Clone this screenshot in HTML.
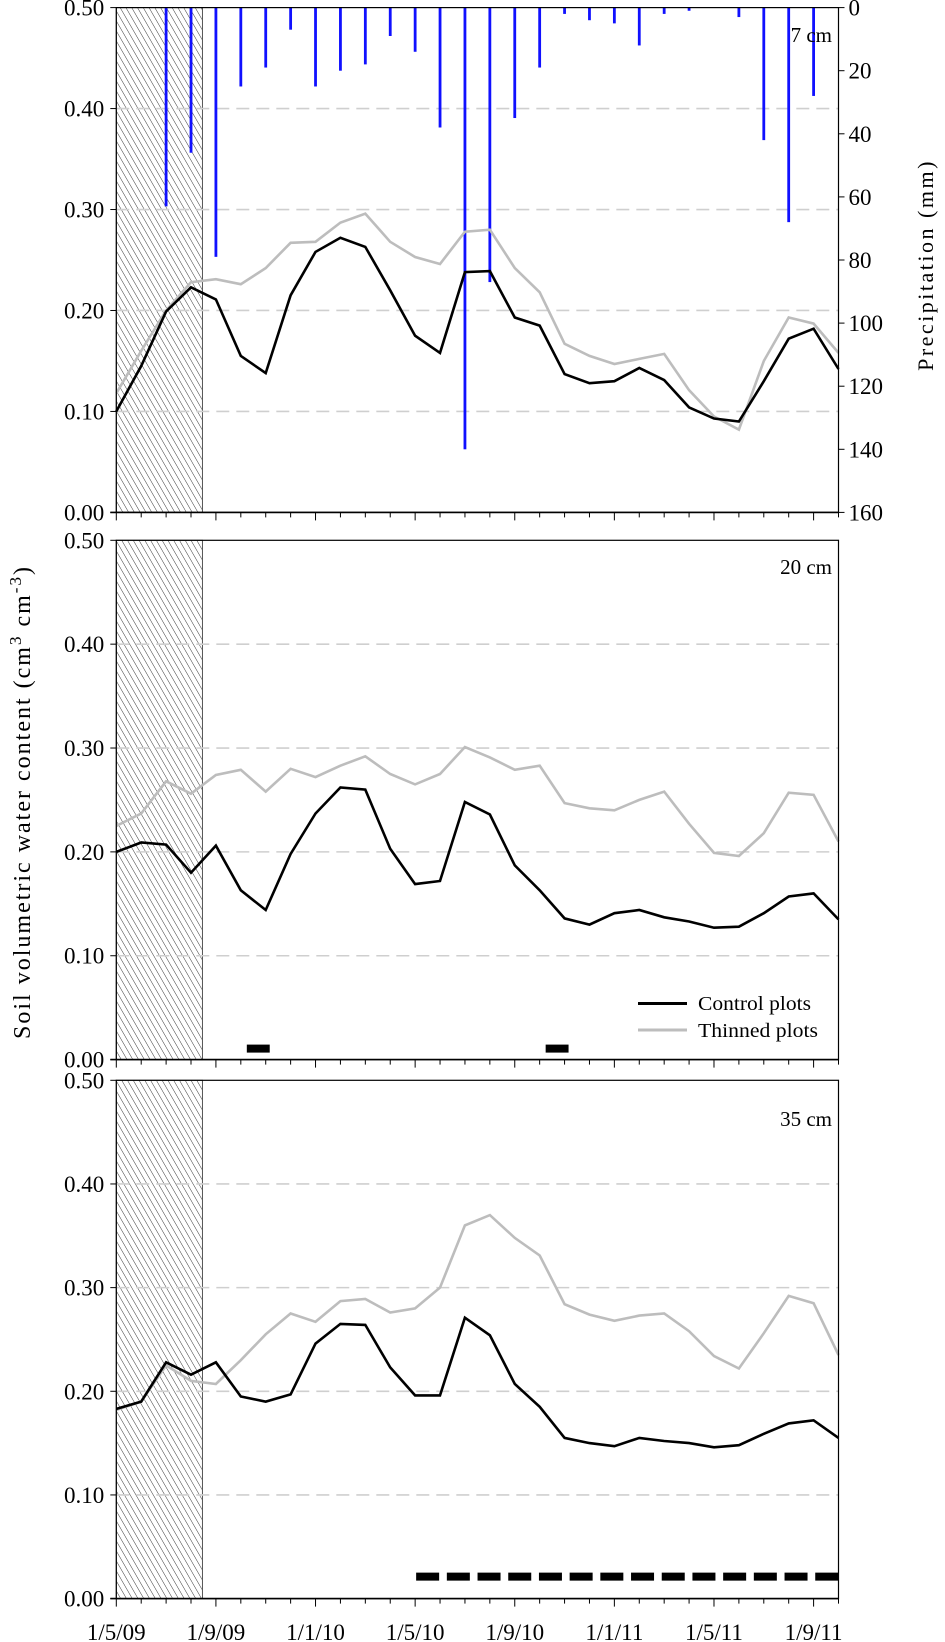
<!DOCTYPE html>
<html><head><meta charset="utf-8"><style>
html,body{margin:0;padding:0;background:#fff;}
svg{display:block;font-family:"Liberation Serif",serif;}
</style></head><body>
<svg id="chart" width="945" height="1642" viewBox="0 0 945 1642" xmlns="http://www.w3.org/2000/svg">
<defs>
<pattern id="hatch" patternUnits="userSpaceOnUse" width="5" height="5" patternTransform="rotate(-30)">
<line x1="0" y1="0" x2="0" y2="5" stroke="#222" stroke-width="0.9"/>
</pattern>
</defs>
<g id="root"></g>
<text transform="translate(30,802) rotate(-90)" text-anchor="middle" font-size="24" letter-spacing="2">Soil volumetric water content (cm<tspan dy="-9" font-size="17">3</tspan><tspan dy="9"> cm</tspan><tspan dy="-9" font-size="17">-3</tspan><tspan dy="9">)</tspan></text>
<text transform="translate(933,265) rotate(-90)" text-anchor="middle" font-size="22" letter-spacing="2.5">Precipitation (mm)</text>
</svg>
<script>
const months = [0,1,2,3,4,5,6,7,8,9,10,11,12,13,14,15,16,17,18,19,20,21,22,23,24,25,26,27,28,29];
const control7 = [0.100,0.145,0.199,0.223,0.211,0.155,0.138,0.215,0.258,0.272,0.263,0.220,0.175,0.158,0.238,0.239,0.193,0.185,0.137,0.128,0.130,0.143,0.131,0.104,0.093,0.090,0.130,0.172,0.182,0.142];
const thinned7 = [0.118,0.160,0.200,0.228,0.231,0.226,0.242,0.267,0.268,0.287,0.296,0.268,0.253,0.246,0.278,0.280,0.242,0.218,0.167,0.155,0.147,0.152,0.157,0.121,0.095,0.082,0.150,0.193,0.187,0.158];
const control20 = [0.200,0.209,0.207,0.180,0.206,0.163,0.144,0.198,0.237,0.262,0.260,0.203,0.169,0.172,0.248,0.236,0.187,0.163,0.136,0.130,0.141,0.144,0.137,0.133,0.127,0.128,0.141,0.157,0.160,0.135];
const thinned20 = [0.225,0.237,0.268,0.256,0.274,0.279,0.258,0.280,0.272,0.283,0.292,0.275,0.265,0.275,0.301,0.291,0.279,0.283,0.247,0.242,0.240,0.250,0.258,0.227,0.199,0.196,0.218,0.257,0.255,0.210];
const control35 = [0.183,0.190,0.228,0.216,0.228,0.195,0.190,0.197,0.246,0.265,0.264,0.223,0.196,0.196,0.271,0.254,0.207,0.185,0.155,0.150,0.147,0.155,0.152,0.150,0.146,0.148,0.159,0.169,0.172,0.155];
const thinned35 = [0.182,0.190,0.225,0.210,0.207,0.230,0.255,0.275,0.267,0.287,0.289,0.276,0.280,0.300,0.360,0.370,0.348,0.331,0.284,0.274,0.268,0.273,0.275,0.258,0.234,0.222,0.256,0.292,0.285,0.235];
const precipMonths = [2,3,4,5,6,7,8,9,10,11,12,13,14,15,16,17,18,19,20,21,22,23,24,25,26,27,28];
const precipValues = [63,46,79,25,19,7,25,20,18,9,14,38,140,87,35,19,2,4,5,12,2,1,0,3,42,68,28];
const yTicks = [0,0.1,0.2,0.3,0.4,0.5];
const yTickLabels = ["0.00","0.10","0.20","0.30","0.40","0.50"];
const pTicks = [0,20,40,60,80,100,120,140,160];
const xLabelMonths = [0,4,8,12,16,20,24,28];
const xLabels = ["1/5/09","1/9/09","1/1/10","1/5/10","1/9/10","1/1/11","1/5/11","1/9/11"];
const depthLabels = ["7 cm","20 cm","35 cm"];
const sigBars20 = [[5,6],[17,18]];
const sigBars35 = [[12,29]];
const pretreatEnd = 3.46;

const NS="http://www.w3.org/2000/svg";
const root=document.getElementById('root');
const X0=116.3, X1=838.5, MMAX=29;
const xS=m=>X0+m*(X1-X0)/MMAX;
function mk(tag,attrs,parent){const e=document.createElementNS(NS,tag);for(const k in attrs)e.setAttribute(k,attrs[k]);(parent||root).appendChild(e);return e;}

const panels=[
 {top:7.6,bottom:512.4,c:control7,t:thinned7,lab:depthLabels[0],ly:42,bars:null},
 {top:540.3,bottom:1059.6,c:control20,t:thinned20,lab:depthLabels[1],ly:574,bars:sigBars20},
 {top:1080.3,bottom:1598.6,c:control35,t:thinned35,lab:depthLabels[2],ly:1126,bars:sigBars35}
];
panels.forEach((p,i)=>{
 const g=mk('g',{});
 
 
 const yS=v=>p.bottom-v/0.5*(p.bottom-p.top);
 const h=mk('rect',{x:X0,y:p.top,width:xS(pretreatEnd)-X0,height:p.bottom-p.top,fill:'url(#hatch)',stroke:'#555','stroke-width':1},g);
 
 
 yTicks.forEach(v=>{ if(v>0&&v<0.5){
   const gl=mk('line',{x1:X0,x2:X1,y1:yS(v),y2:yS(v),stroke:'#cfcfcf','stroke-width':1.6,'stroke-dasharray':'13,7'},g);
   
   
 }});
 if(i===0){
   const pS=v=>p.top+v/160*(p.bottom-p.top);
   precipMonths.forEach((m,k)=>{ if(precipValues[k]>0){
     const b=mk('rect',{x:xS(m)-1.4,y:p.top,width:2.8,height:pS(precipValues[k])-p.top,fill:'#1010ff'},g);
     
     
   }});
   pTicks.forEach(v=>{
     mk('line',{x1:X1,x2:X1+6,y1:pS(v),y2:pS(v),stroke:'#000','stroke-width':1},g);
     const t=mk('text',{x:X1+10,y:pS(v)+8,'font-size':23},g);
     t.textContent=v;
     
     
   });
 }
 const mkPath=(arr,col,name)=>{
   const d=arr.map((v,k)=>(k?'L':'M')+xS(months[k]).toFixed(1)+','+yS(v).toFixed(1)).join('');
   const pa=mk('path',{d:d,fill:'none',stroke:col,'stroke-width':2.6,'stroke-linejoin':'miter'},g);
   
   
 };
 mkPath(p.t,'#bdbdbd','thinned-line');
 mkPath(p.c,'#000','control-line');
 if(p.bars){
   p.bars.forEach(b=>{
     const y=p.bottom-(i===1?11:22);
     if(i===1){
       const r=mk('rect',{x:xS(b[0])+6,y:y-4,width:xS(b[1])-xS(b[0])-2,height:8,fill:'#000'},g);
       
       
     } else {
       const l=mk('line',{x1:xS(b[0])+1,x2:X1,y1:y,y2:y,stroke:'#000','stroke-width':8,'stroke-dasharray':'23,7.7'},g);
       
       
     }
   });
 }
 mk('rect',{x:X0,y:p.top,width:X1-X0,height:p.bottom-p.top,fill:'none',stroke:'#000','stroke-width':1.2},g);
 mk('line',{x1:X0-6,x2:X1,y1:p.bottom,y2:p.bottom,stroke:'#000','stroke-width':1.6},g);
 yTicks.forEach((v,k)=>{
   mk('line',{x1:X0-6,x2:X0,y1:yS(v),y2:yS(v),stroke:'#000','stroke-width':1},g);
   const t=mk('text',{x:X0-12,y:yS(v)+8,'font-size':23,'text-anchor':'end'},g);
   t.textContent=yTickLabels[k];
   
   
 });
 months.forEach(m=>{
   const major=xLabelMonths.includes(m);
   mk('line',{x1:xS(m),x2:xS(m),y1:p.bottom,y2:p.bottom+(major?8:5),stroke:'#000','stroke-width':1},g);
 });
 const dl=mk('text',{x:832,y:p.ly,'font-size':21,'text-anchor':'end'},g);
 dl.textContent=p.lab;
 
 
});
xLabelMonths.forEach((m,k)=>{
 const t=mk('text',{x:xS(m),y:1640,'font-size':23,'text-anchor':'middle'});
 t.textContent=xLabels[k];
 
 
});
const lg=mk('g',{});


mk('line',{x1:638,x2:687,y1:1003.5,y2:1003.5,stroke:'#000','stroke-width':3},lg);
mk('line',{x1:638,x2:687,y1:1030,y2:1030,stroke:'#bdbdbd','stroke-width':3},lg);
const l1=mk('text',{x:698,y:1010,'font-size':20,textLength:113,lengthAdjust:'spacingAndGlyphs'},lg);l1.textContent='Control plots';


const l2=mk('text',{x:698,y:1037,'font-size':20,textLength:120,lengthAdjust:'spacingAndGlyphs'},lg);l2.textContent='Thinned plots';


</script>
</body></html>
